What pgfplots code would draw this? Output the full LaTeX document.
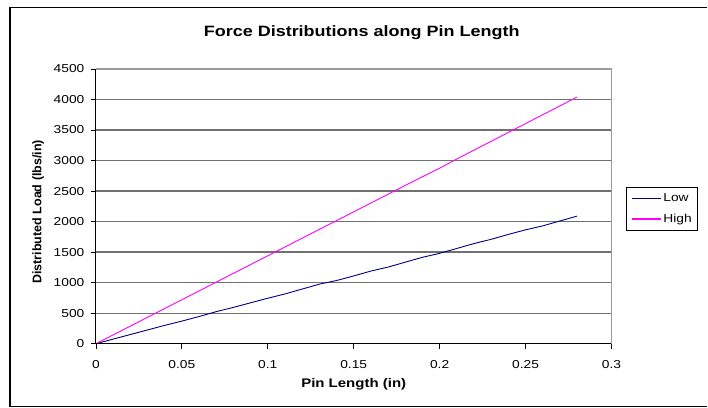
\documentclass[border=0pt]{standalone}
\usepackage{fontspec}
\setmainfont{Liberation Sans}[FakeStretch=1.2]
\newfontfamily\ylabfont{Liberation Sans}
\usepackage{pgfplots}
\pgfplotsset{compat=1.18}
\definecolor{lowc}{HTML}{000080}
\definecolor{highc}{HTML}{FF00FF}
\definecolor{gridc}{HTML}{707070}
\begin{document}
\begin{tikzpicture}
\begin{axis}[
  at={(0,0)}, anchor=south west,
  scale only axis,
  width=516bp, height=275bp,
  xmin=0, xmax=0.3, ymin=0, ymax=4500,
  xtick={0,0.05,...,0.3}, ytick={0,500,...,4500},
  scaled ticks=false,
  /pgf/number format/assume math mode=true,
  xticklabel style={/pgf/number format/fixed,/pgf/number format/precision=2, yshift=-8bp},
  yticklabel style={/pgf/number format/1000 sep={}, xshift=-3bp},
  ticklabel style={font=\fontsize{11.5bp}{13bp}\selectfont},
  tick align=outside,
  major tick length=5bp,
  tick style={black, line width=0.8bp},
  xtick pos=bottom, ytick pos=left,
  ymajorgrids,
  grid style={gridc, line width=1.3bp},
  axis line style={draw=none},
  xlabel={\bfseries Pin Length (in)},
  ylabel={\ylabfont\bfseries Distributed Load (lbs/in)},
  xlabel style={font=\fontsize{12.5bp}{14bp}\selectfont, at={(axis description cs:0.5,-0.147)}, anchor=center},
  ylabel style={font=\fontsize{12.5bp}{14bp}\selectfont, at={(axis description cs:-0.112,0.48)}, anchor=center},
  title={\bfseries Force Distributions along Pin Length},
  title style={font=\fontsize{15bp}{17bp}\selectfont, at={(axis description cs:0.5155,1)}, anchor=center, yshift=30bp},
  legend style={at={(axis description cs:1.029,0.569)}, anchor=north west,
    draw=black, line width=0.8bp, font=\fontsize{11.5bp}{13bp}\selectfont,
    inner xsep=4bp, inner ysep=4bp, row sep=7bp},
  legend cell align=left,
  legend image code/.code={\draw[#1, line width=1.6bp] (0bp,0bp) -- (29bp,0bp);},
  clip=false,
]
\addplot[lowc, line width=0.9bp] coordinates {
(0,0) (0.01,75) (0.02,150) (0.03,225) (0.04,300) (0.05,370) (0.06,445) (0.07,525)
(0.08,595) (0.09,670) (0.10,745) (0.11,815) (0.12,895) (0.13,975) (0.14,1035)
(0.15,1110) (0.16,1190) (0.17,1255) (0.18,1335) (0.19,1415) (0.20,1480) (0.21,1560)
(0.22,1640) (0.23,1710) (0.24,1790) (0.25,1865) (0.26,1930) (0.27,2010) (0.28,2090)
};
\addlegendentry{Low}
\addplot[highc, line width=0.9bp] coordinates {
(0,0) (0.01,144) (0.02,288) (0.03,432) (0.04,576) (0.05,720) (0.06,864) (0.07,1008)
(0.08,1152) (0.09,1296) (0.10,1440) (0.11,1584) (0.12,1728) (0.13,1872) (0.14,2016)
(0.15,2160) (0.16,2304) (0.17,2448) (0.18,2592) (0.19,2736) (0.20,2875) (0.21,3025)
(0.22,3170) (0.23,3315) (0.24,3460) (0.25,3605) (0.26,3750) (0.27,3895) (0.28,4040)
};
\addlegendentry{High}
\draw[gridc!70, line width=1.2bp] (rel axis cs:0,1) -- (rel axis cs:1,1) -- (rel axis cs:1,0);
\draw[black, line width=0.9bp] (rel axis cs:0,1) -- (rel axis cs:0,0) -- (rel axis cs:1,0);
\end{axis}
\draw[black, line width=1.2bp] (612bp,-63bp) -- (-86bp,-63bp) -- (-86bp,336.5bp) -- (612bp,336.5bp);
\useasboundingbox (-96bp,-64bp) rectangle (612bp,344bp);
\end{tikzpicture}
\end{document}
